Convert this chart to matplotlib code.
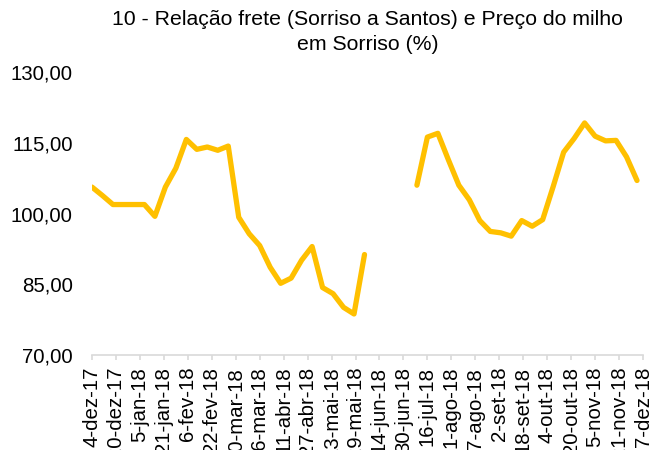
import numpy as np
import pandas as pd
import matplotlib
matplotlib.use("Agg")
import matplotlib.pyplot as plt

plt.rcParams['font.family'] = ['Liberation Sans', 'DejaVu Sans']

title = "10 - Relação frete (Sorriso a Santos) e Preço do milho\nem Sorriso (%)"
start_date = "2017-12-04"
values = [105.6, 103.8, 101.9, 101.9, 101.9, 101.9, 99.4, 105.6, 109.6, 115.7,
          113.6, 114.1, 113.4, 114.3, 99.2, 95.7, 93.2, 88.6, 85.2, 86.3,
          90.1, 93.0, 84.3, 83.0, 80.1, 78.7, 91.3,
          np.nan, np.nan, np.nan, np.nan,
          106.0, 116.2, 117.0, 111.4, 106.0, 102.9, 98.5, 96.2, 95.9, 95.2,
          98.5, 97.3, 98.7, 105.7, 113.0, 115.9, 119.2, 116.4, 115.4, 115.5,
          112.0, 107.0]
tick_labels = ["4-dez-17", "20-dez-17", "5-jan-18", "21-jan-18", "6-fev-18",
               "22-fev-18", "10-mar-18", "26-mar-18", "11-abr-18", "27-abr-18",
               "13-mai-18", "29-mai-18", "14-jun-18", "30-jun-18", "16-jul-18",
               "1-ago-18", "17-ago-18", "2-set-18", "18-set-18", "4-out-18",
               "20-out-18", "5-nov-18", "21-nov-18", "7-dez-18"]
y_ticks = [70, 85, 100, 115, 130]

dates = pd.date_range(start_date, periods=len(values), freq="7D")
tick_dates = pd.date_range(start_date, periods=len(tick_labels), freq="16D")

fig = plt.figure(figsize=(6.53, 4.5), dpi=100)
ax = fig.add_axes([92/653, 1-355/450, (643-92)/653, (355-72)/450])

ax.plot(dates, values, color="#FFC000", lw=3.8, solid_capstyle="round",
        solid_joinstyle="round")

ax.set_xlim(tick_dates[0], tick_dates[-1])
ax.set_ylim(70, 130)
ax.set_yticks(y_ticks)
ax.set_yticklabels([f"{v:.2f}".replace(".", ",") for v in y_ticks])
ax.set_xticks(tick_dates)
ax.set_xticklabels(tick_labels, rotation=90, ha="center", va="top")

for s in ["top", "right", "left"]:
    ax.spines[s].set_visible(False)
ax.spines["bottom"].set_color("#D9D9D9")
ax.spines["bottom"].set_linewidth(1.2)
ax.tick_params(axis="y", length=0, pad=14, labelsize=14.7, colors="#000000")
ax.tick_params(axis="x", length=3.5, width=1.2, color="#D9D9D9", pad=5,
               labelsize=14.7, labelcolor="#000000")

ax.set_title(title, fontsize=15.3, pad=15.5, linespacing=1.4)

fig.savefig("out.png", dpi=100)
